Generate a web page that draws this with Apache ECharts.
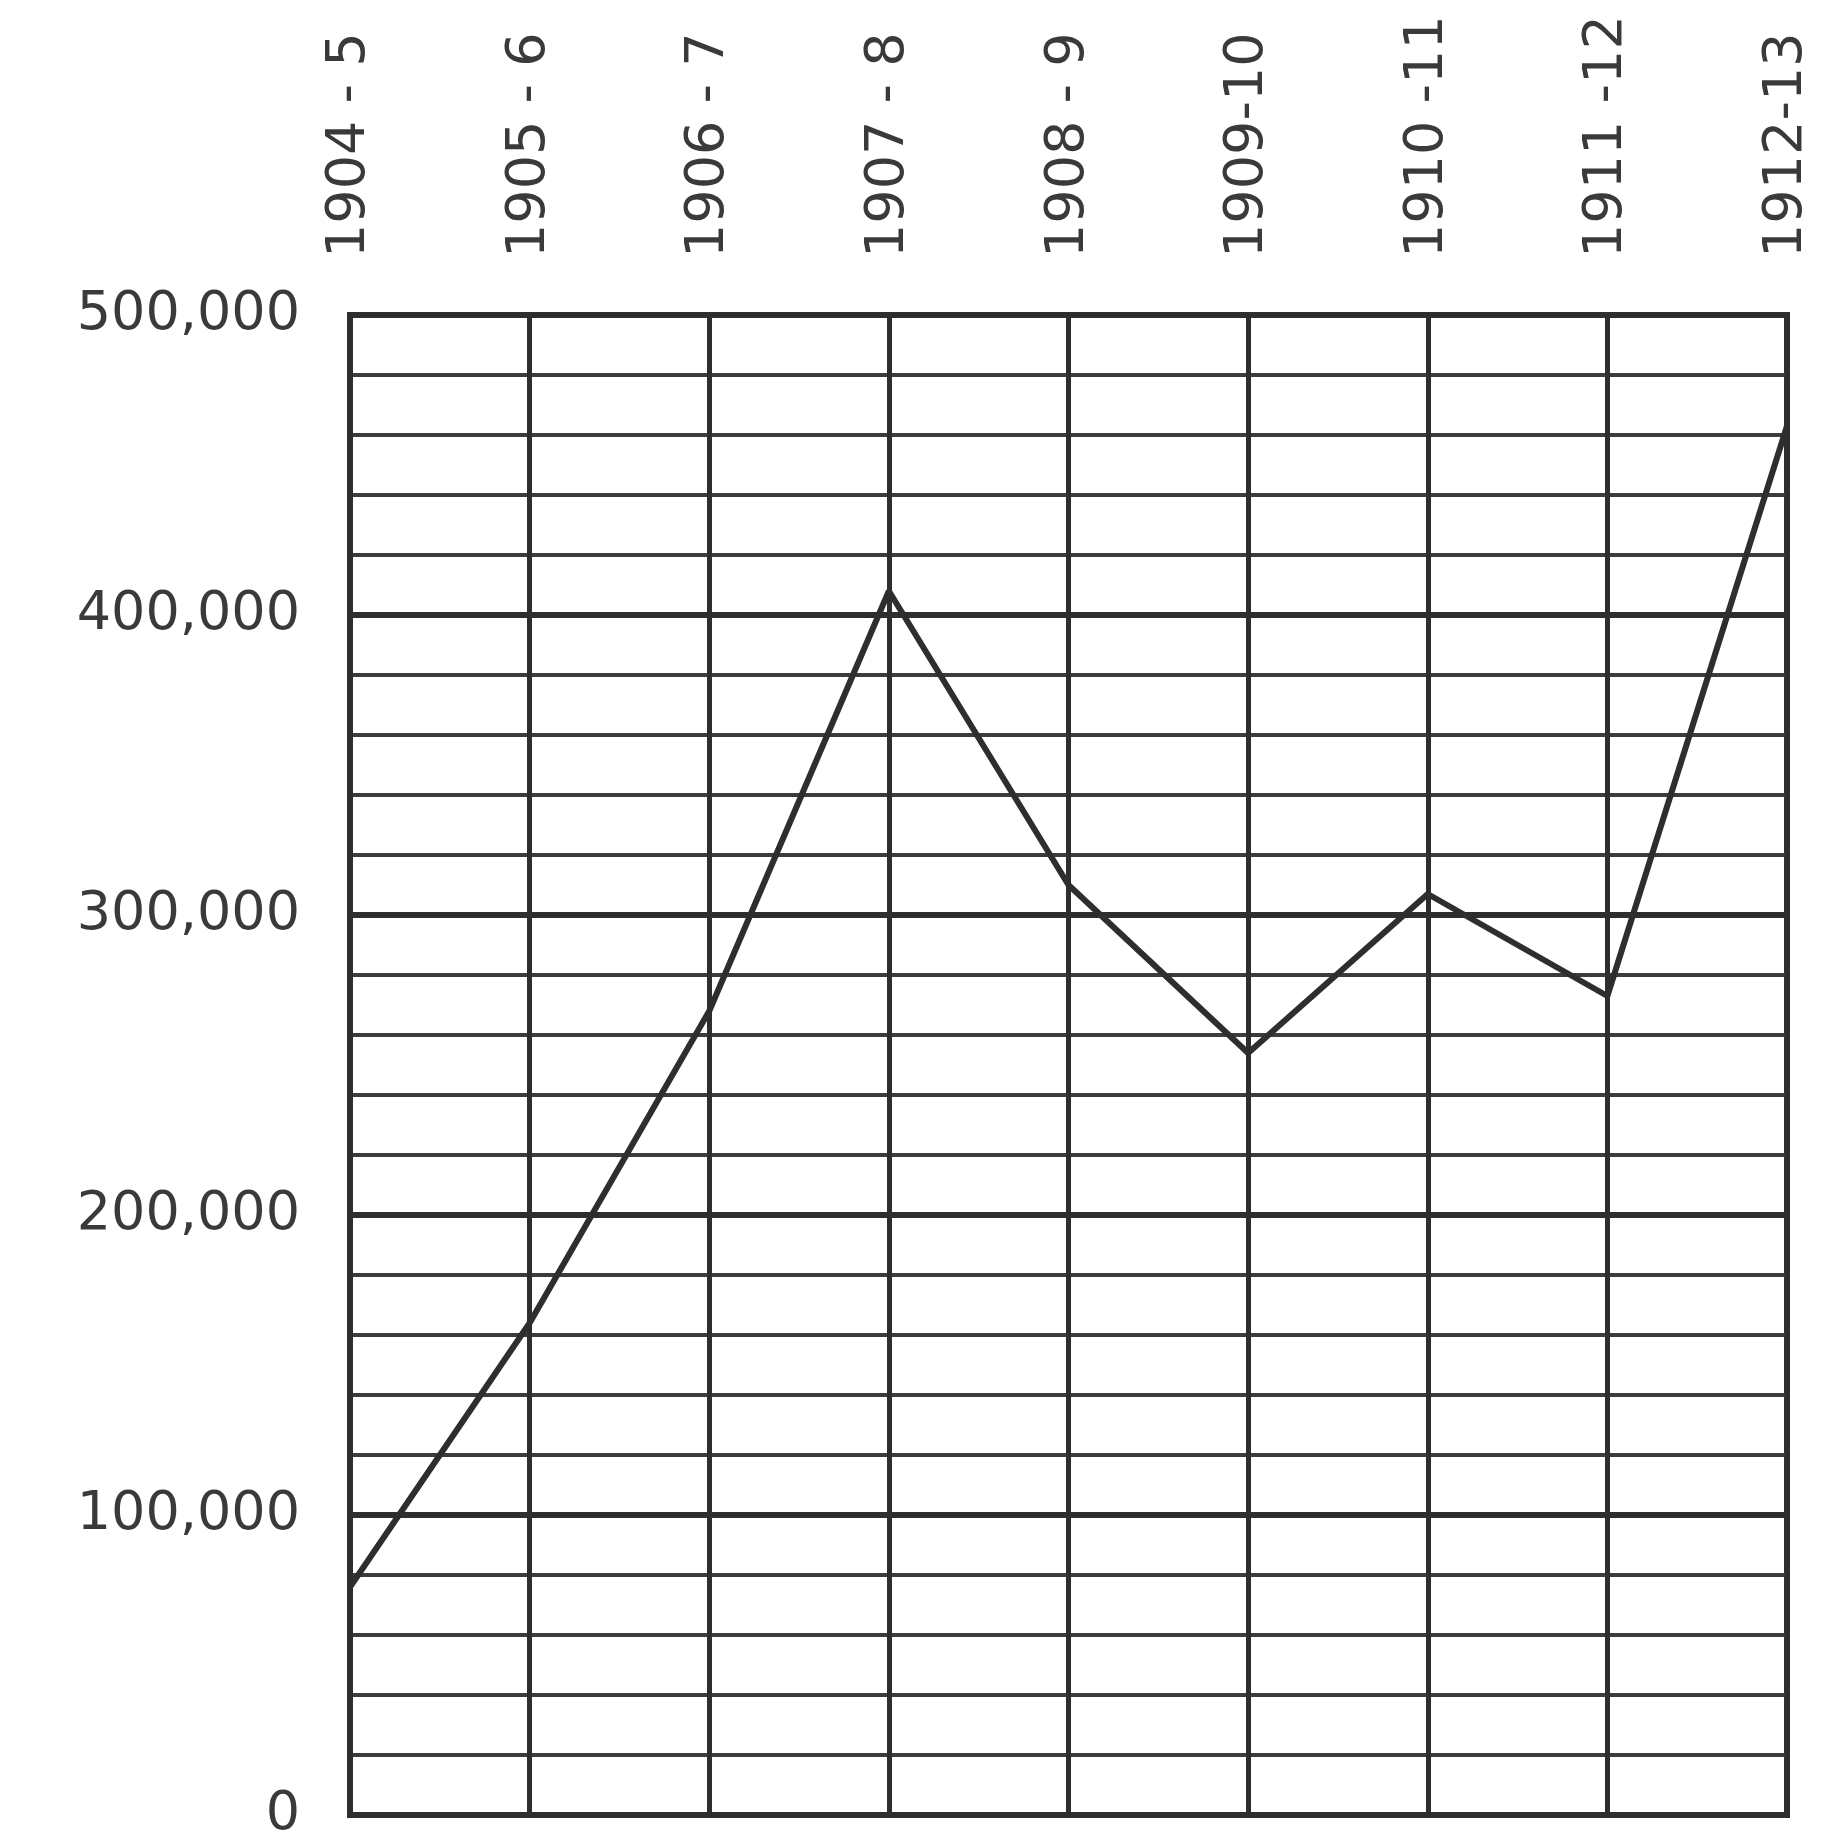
<!DOCTYPE html>
<html>
<head>
<meta charset="utf-8">
<script src="https://cdn.jsdelivr.net/npm/echarts@6/dist/echarts.min.js"></script>
<style>
html,body{margin:0;padding:0;background:#fff;}
#chart{width:1825px;height:1842px;}
</style>
</head>
<body>
<div id="chart"></div>
<script>
const categories = ["1904 - 5","1905 - 6","1906 - 7","1907 - 8","1908 - 9","1909-10","1910 -11","1911 -12","1912-13"];
const values = [76000, 164000, 268000, 408000, 310000, 254000, 307000, 273000, 463000];
const yTicks = [0, 100000, 200000, 300000, 400000, 500000];

const chart = echarts.init(document.getElementById('chart'));
const font = '"DejaVu Sans", sans-serif';
chart.setOption({
  animation: false,
  backgroundColor: '#ffffff',
  grid: {
    left: 350, right: 38, top: 315, bottom: 17,
    show: true, borderColor: '#2e2e2e', borderWidth: 6, backgroundColor: 'transparent'
  },
  xAxis: {
    type: 'category',
    position: 'top',
    data: categories,
    boundaryGap: false,
    axisLine: {show: true, lineStyle: {color: '#2e2e2e', width: 6}},
    axisTick: {show: false},
    axisLabel: {
      rotate: 90, margin: 57, interval: 0,
      fontFamily: font, fontSize: 54, color: '#3a3a3a'
    },
    splitLine: {show: true, interval: 0, lineStyle: {color: '#2e2e2e', width: 5}}
  },
  yAxis: {
    type: 'value',
    min: yTicks[0], max: yTicks[yTicks.length - 1], interval: 100000,
    axisLine: {show: true, lineStyle: {color: '#2e2e2e', width: 6}},
    axisTick: {show: false},
    axisLabel: {
      margin: 50, fontFamily: font, fontSize: 54, color: '#3a3a3a',
      formatter: function (v) { return v === 0 ? '0' : v.toLocaleString('en-US'); }
    },
    splitLine: {show: true, lineStyle: {color: '#2e2e2e', width: 6}},
    minorTick: {show: false, splitNumber: 5},
    minorSplitLine: {show: true, lineStyle: {color: '#3c3c3c', width: 4}}
  },
  series: [{
    type: 'line',
    data: values,
    symbol: 'none',
    lineStyle: {color: '#2e2e2e', width: 6},
    z: 5
  }]
});
</script>
</body>
</html>
